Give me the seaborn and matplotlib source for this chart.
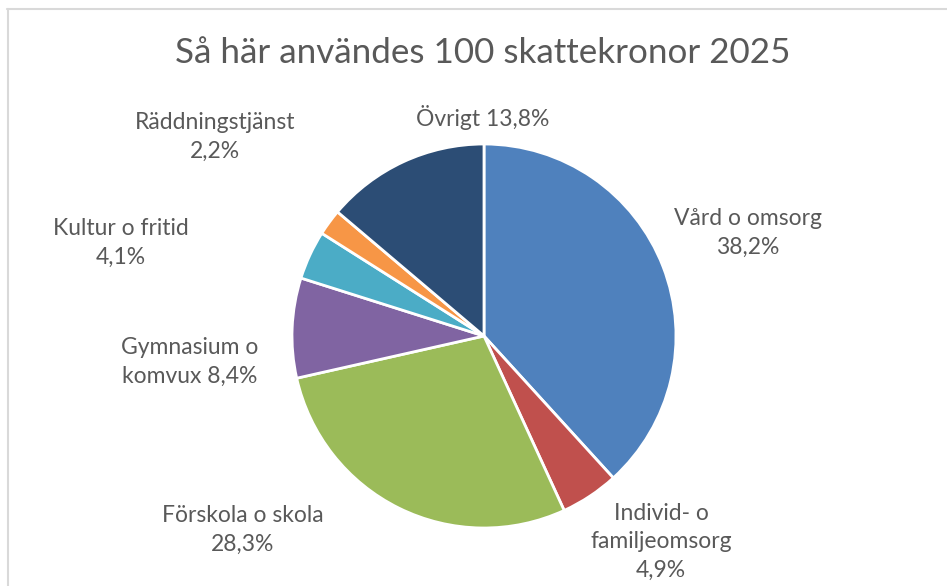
import matplotlib
matplotlib.use("Agg")
import matplotlib.pyplot as plt
import seaborn as sns
from matplotlib.lines import Line2D

# Data
kategorier = ["Vård o omsorg", "Individ- o\nfamiljeomsorg", "Förskola o skola",
              "Gymnasium o\nkomvux", "Kultur o fritid", "Räddningstjänst", "Övrigt"]
andelar = [38.2, 4.9, 28.3, 8.4, 4.1, 2.2, 13.8]
titel = "Så här användes 100 skattekronor 2025"

# Style
farger = ["#4F81BD", "#C0504D", "#9BBB59", "#8064A2", "#4BACC6", "#F79646", "#2C4D75"]
# label anchor (pixel x, pixel y from top), how the percent joins the name
etikett_pos = [(748, 233), (661, 542), (243, 530), (190, 362), (121, 243), (215, 137), (483, 117)]
etikett_sep = ["\n", "\n", "\n", " ", "\n", "\n", " "]

W, H = 947, 586
sns.set_theme(style="white")
plt.rcParams["font.family"] = ["Lato", "DejaVu Sans"]

fig = plt.figure(figsize=(W / 100, H / 100), dpi=100)
ax = fig.add_axes([0, 0, 1, 1])

ax.pie(andelar, colors=farger, startangle=90, counterclock=False,
       center=(484, H - 336), radius=192,
       wedgeprops=dict(edgecolor="white", linewidth=2))
ax.set_xlim(0, W)
ax.set_ylim(0, H)
ax.set_aspect("equal")
ax.axis("off")

for namn, v, (px, py), sep in zip(kategorier, andelar, etikett_pos, etikett_sep):
    txt = f"{namn}{sep}{v:.1f}%".replace(".", ",")
    ax.text(px, H - py, txt, ha="center", va="center", fontsize=16.5,
            color="#595959", linespacing=1.45)

ax.text(483, H - 53, titel, ha="center", va="center", fontsize=25.2, color="#595959")

# chart frame
fig.add_artist(Line2D([7 / W, 1], [1 - 9 / H, 1 - 9 / H], color="#d9d9d9", lw=1.5,
                      transform=fig.transFigure))
fig.add_artist(Line2D([8 / W, 8 / W], [0, 1 - 9 / H], color="#d9d9d9", lw=1.5,
                      transform=fig.transFigure))

fig.savefig("out.png", dpi=100)
plt.close(fig)
